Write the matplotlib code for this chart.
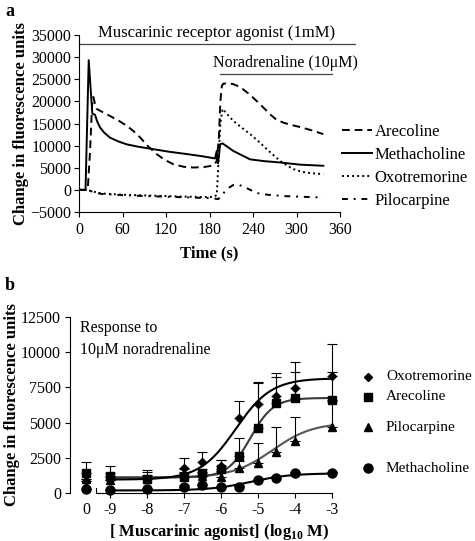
import numpy as np
import matplotlib as mpl
mpl.use('Agg')
import matplotlib.pyplot as plt

plt.rcParams['font.family'] = ['Liberation Serif', 'DejaVu Serif']
plt.rcParams['mathtext.fontset'] = 'custom'
plt.rcParams['mathtext.rm'] = 'Liberation Serif'
plt.rcParams['mathtext.bf'] = 'Liberation Serif:bold'

# ---- panel a: time courses (s, fluorescence units)
t_metha = [0, 9, 10.5, 13.4, 18.4, 22, 25, 29, 35, 42.8, 55, 65.7, 80, 102.5, 125, 148.5,
           170, 187.6, 190, 191.5, 193, 194.5, 198, 205, 212.8, 225, 235.9, 255, 277, 304.8, 337]
v_metha = [0, 0, 10000, 29300, 17200, 17000, 15500, 14100, 12900, 11800, 10900, 10300, 9800,
           9200, 8600, 8100, 7600, 7100, 8800, 6000, 7500, 10300, 10500, 9700, 8800, 7800, 6900,
           6500, 6200, 5700, 5450]

t_areco = [0, 12, 15, 18, 19.8, 22, 24.4, 30, 42.8, 55, 65.8, 75, 84, 95, 107, 118, 130, 145,
           157.7, 172, 185, 190, 193, 195, 197, 199, 205, 212.8, 220, 226.6, 235, 245, 255,
           263.4, 272, 281.8, 292, 304.8, 320, 337]
v_areco = [0, 0, 8000, 19000, 21000, 19500, 18300, 17800, 16700, 15600, 14500, 13300, 11900,
           9900, 8100, 6800, 5800, 5200, 5050, 5150, 5500, 6500, 12000, 20000, 23500, 24000,
           24100, 23900, 23400, 22700, 21600, 20100, 18500, 17100, 15900, 15200, 14700, 14200,
           13500, 12600]

t_oxo = [0, 10, 30, 60, 100, 140, 170, 185, 190, 192, 195, 198, 205, 212.8, 225, 236, 248,
         259, 270, 277, 287, 295.6, 307, 318.6, 337]
v_oxo = [0, 0, -800, -1100, -1300, -1500, -1600, -1600, -1200, 5000, 15000, 18300, 17000,
         15600, 14000, 12600, 10900, 9200, 7600, 6600, 5500, 4700, 4100, 3800, 3550]

t_pilo = [0, 10, 30, 60, 100, 150, 185, 192, 200, 207, 212.8, 218, 225, 235, 245, 260, 281.8,
          305, 332, 337]
v_pilo = [0, 0, -900, -1200, -1450, -1700, -1900, -2100, -600, 500, 1100, 1200, 900, 100,
          -700, -1100, -1400, -1550, -1700, -1700]

# ---- panel b: concentration response
log_conc = [-9, -8, -7, -6.5, -6, -5.5, -5, -4.5, -4, -3]
ctrl_pos = -9.65
oxo_ctrl, oxo_ctrl_err = 850, 0
oxo_mean = [950, 1000, 1750, 2180, 1900, 5300, 6320, 6910, 7460, 8310]
oxo_err = [500, 500, 710, 750, 420, 1230, 1520, 1630, 1870, 2250]
are_ctrl, are_ctrl_err = 1440, 780
are_mean = [1200, 970, 1160, 1400, 1680, 2630, 4600, 6415, 6720, 6600]
are_err = [700, 660, 300, 300, 660, 1250, 3250, 1850, 1900, 2000]
pil_ctrl, pil_ctrl_err = 1000, 0
pil_mean = [950, 1000, 1400, 1200, 1160, 1750, 2100, 2935, 3715, 4710]
pil_err = [200, 300, 300, 300, 400, 500, 1460, 1730, 1660, 1800]
met_ctrl, met_ctrl_err = 250, 0
met_mean = [210, 250, 450, 540, 400, 450, 920, 1090, 1400, 1400]
met_err = [100, 100, 100, 100, 100, 100, 100, 100, 100, 100]

# fitted sigmoid parameters: bottom, top, logEC50, hill
fit_oxo = (950, 8150, -5.6, 0.9)
fit_are = (1100, 6750, -5.2, 1.4)
fit_pil = (1100, 5000, -4.6, 0.8)
fit_met = (180, 1400, -5.2, 0.8)


def sigmoid(x, bottom, top, logec50, hill):
    return bottom + (top - bottom) / (1 + 10 ** ((logec50 - x) * hill))


fig = plt.figure(figsize=(4.75, 5.41), dpi=100)
W, H = 475.0, 541.0

# ================= panel a
ax = fig.add_axes([79 / W, 1 - 212 / H, 261 / W, 177 / H])
ax.plot(t_areco, v_areco, color='black', lw=1.4, ls=(0, (4, 2.5)), label='Arecoline')
ax.plot(t_metha, v_metha, color='black', lw=1.4, label='Methacholine')
ax.plot(t_oxo, v_oxo, color='black', lw=1.4, ls=(0, (1, 1.6)), label='Oxotremorine')
ax.plot(t_pilo, v_pilo, color='black', lw=1.4, ls=(0, (3, 3, 1, 3)), label='Pilocarpine')
ax.set_xlim(0, 360)
ax.set_ylim(-5000, 35000)
ax.set_xticks(np.arange(0, 361, 60))
ax.set_yticks(np.arange(-5000, 35001, 5000))
for s in ['top', 'right']:
    ax.spines[s].set_visible(False)
ax.tick_params(labelsize=11.5, length=3.5, width=0.8, pad=2)
ax.tick_params(axis='x', pad=4)
ax.set_xlabel('Time (s)', fontsize=12, fontweight='bold', labelpad=5)
ax.set_ylabel('Change in fluorescence units', fontsize=12, fontweight='bold', labelpad=1)

# treatment bars
ax.plot([0, 380], [33000, 33000], color='#444444', lw=0.9, clip_on=False)
ax.text(190, 33600, 'Muscarinic receptor agonist (1mM)', ha='center', va='bottom', fontsize=12)
ax.plot([194.5, 349], [26200, 26200], color='#444444', lw=0.9, clip_on=False)
ax.text(285, 26800, 'Noradrenaline (10\u03bcM)', ha='center', va='bottom', fontsize=11.5)

ax.legend(frameon=False, loc='upper left', bbox_to_anchor=(342 / W, 1 - 124 / H),
          bbox_transform=fig.transFigure, borderaxespad=0, borderpad=0, fontsize=12,
          handlelength=1.8, handletextpad=0.15, labelspacing=0.42)

fig.text(5 / W, 1 - 12 / H, 'a', fontsize=13, fontweight='bold', va='center')

# ================= panel b
bx = fig.add_axes([70 / W, 1 - 493 / H, 270 / W, 176 / H])
xs = np.linspace(-9, -3, 200)
bx.plot(xs, sigmoid(xs, *fit_met), color='black', lw=1.5, zorder=2)
bx.plot(xs, sigmoid(xs, *fit_pil), color='#555555', lw=1.5, zorder=2)
bx.plot(xs, sigmoid(xs, *fit_are), color='#3a3a3a', lw=1.5, zorder=2)
bx.plot(xs, sigmoid(xs, *fit_oxo), color='black', lw=1.5, zorder=2)

series = [
    (oxo_mean, oxo_err, oxo_ctrl, oxo_ctrl_err, 'D', 4.5, 'Oxotremorine'),
    (are_mean, are_err, are_ctrl, are_ctrl_err, 's', 6, 'Arecoline'),
    (pil_mean, pil_err, pil_ctrl, pil_ctrl_err, '^', 5.5, 'Pilocarpine'),
    (met_mean, met_err, met_ctrl, met_ctrl_err, 'o', 6.5, 'Methacholine'),
]
for mean, err, c, cerr, mk, ms, name in series:
    x = [ctrl_pos] + log_conc
    y = [c] + mean
    e = [cerr] + err
    bx.errorbar(x, y, yerr=[np.zeros(len(e)), e], fmt=mk, ms=ms, color='black',
                ecolor='black', elinewidth=0.8, capsize=3.5, capthick=0.8,
                clip_on=False, zorder=3)

bx.set_xlim(-10.08, -2.78)
bx.set_ylim(0, 12500)
bx.set_yticks(np.arange(0, 12501, 2500))
bx.set_xticks([ctrl_pos] + list(range(-9, -2)))
bx.set_xticklabels(['0'] + [str(v) for v in range(-9, -2)])
bx.xaxis.get_major_ticks()[0].tick1line.set_visible(False)
for s in ['top', 'right']:
    bx.spines[s].set_visible(False)
bx.spines['bottom'].set_bounds(-9.38, -3)
bx.axvline(-9.38, ymin=0, ymax=0.03, color='black', lw=0.8)
bx.tick_params(labelsize=11.5, length=3.5, width=0.8, pad=3)
bx.set_xlabel('[ Muscarinic agonist] (log$_{\\mathbf{10}}$ M)', fontsize=12,
              fontweight='bold', va='center')
bx.xaxis.set_label_coords(0.552, -0.222)
bx.set_ylabel('Change in fluorescence units', fontsize=12, fontweight='bold', labelpad=1)
bx.text(80 / W, 1 - 339 / H, 'Response to\n10\u03bcM noradrenaline', transform=fig.transFigure,
        fontsize=11.5, va='center', ha='left', linespacing=1.45)

# legend keys for panel b (uneven row spacing as in the figure)
leg_rows = [377, 397, 427, 468]
for (mean, err, c, cerr, mk, ms, name), ry in zip(series, leg_rows):
    fig.lines.append(plt.Line2D([368 / W], [1 - ry / H], marker=mk, ms=ms, color='black',
                                ls='none', transform=fig.transFigure))
    fig.text(386 / W, 1 - ry / H, name, fontsize=11, va='center', ha='left')

fig.text(5 / W, 1 - 286 / H, 'b', fontsize=13, fontweight='bold', va='center')

plt.savefig('out.png', dpi=100)
print('Saved: "out.png"')
